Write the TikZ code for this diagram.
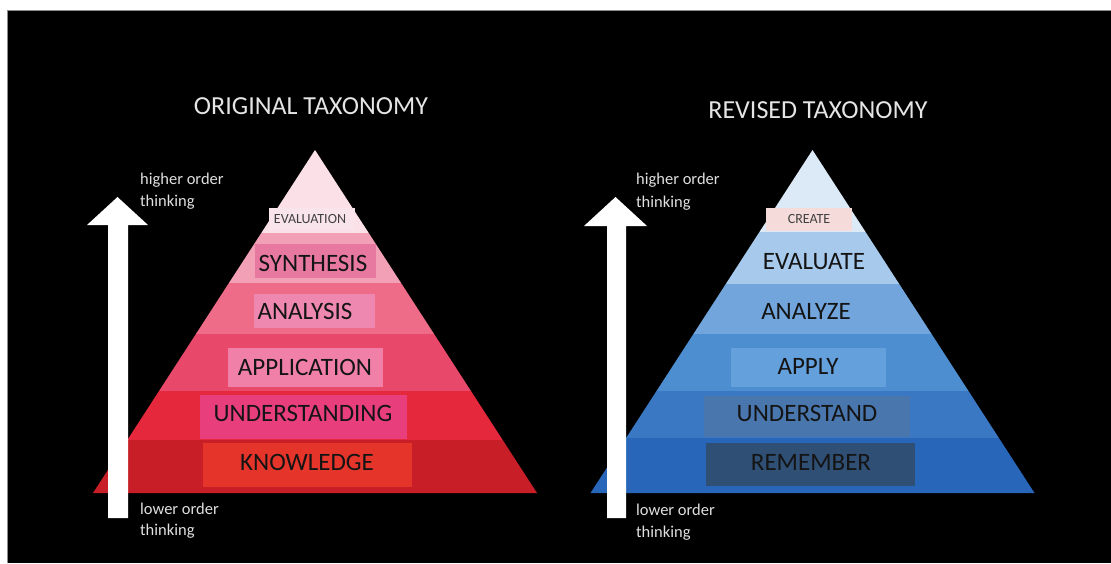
\documentclass[tikz,border=0pt]{standalone}
\usepackage{fontspec}
\setmainfont{Carlito}
\begin{document}
\begin{tikzpicture}[x=1pt,y=-1pt,
  title/.style={text=white!90!black,font=\fontsize{26}{30}\selectfont,inner sep=0pt},
  side/.style={text=white!88!black,font=\fontsize{16.5}{19}\selectfont,inner sep=0pt,anchor=west},
  level/.style={text=black!92,font=\fontsize{25}{29}\selectfont,inner sep=0pt},
  small/.style={text=black!75,font=\fontsize{14}{16}\selectfont,inner sep=0pt}]
% frame
\useasboundingbox (0,0) rectangle (1111,563);
\fill[white] (0,0) rectangle (1111,563);
\fill[black] (7,10) rectangle (1111,563);
\draw[black!45,line width=0.8pt] (7,563) -- (7,10) -- (1111,10);

% one band of a pyramid: apex at (#1,150), half base 222 at y=493
\newcommand{\band}[4]{%
  \fill[#4] ({#1-0.64723*(#2-150)},#2) -- ({#1+0.64723*(#2-150)},#2)
    -- ({#1+0.64723*(#3-150)},#3) -- ({#1-0.64723*(#3-150)},#3) -- cycle;}

% ---------- original taxonomy ----------
\definecolor{o1}{HTML}{FBE0E7}
\definecolor{o2}{HTML}{F2A0B6}
\definecolor{o3}{HTML}{EE6C88}
\definecolor{o4}{HTML}{E8486A}
\definecolor{o5}{HTML}{E5283C}
\definecolor{o6}{HTML}{C81E27}
\band{315}{150}{233}{o1}
\band{315}{233}{283}{o2}
\band{315}{283}{334}{o3}
\band{315}{334}{391}{o4}
\band{315}{391}{440}{o5}
\band{315}{440}{493}{o6}

\fill[fill={rgb,255:red,249;green,228;blue,235}] (269,208) rectangle (355,231);
\fill[fill={rgb,255:red,231;green,121;blue,160}] (255,244) rectangle (376,278);
\fill[fill={rgb,255:red,238;green,136;blue,176}] (254,294) rectangle (375,328);
\fill[fill={rgb,255:red,240;green,128;blue,168}] (228,348) rectangle (383,387);
\fill[fill={rgb,255:red,232;green,62;blue,124}] (200,395) rectangle (407,439);
\fill[fill={rgb,255:red,229;green,53;blue,42}] (203,443) rectangle (412,487);

\node[small] (oeval) at (310,219) {EVALUATION};
\node[level] (osyn) at (313,263) {SYNTHESIS};
\node[level] (oana) at (305,311) {ANALYSIS};
\node[level] (oapp) at (305,367) {APPLICATION};
\node[level] (ound) at (303,413) {UNDERSTANDING};
\node[level] (oknow) at (307,462) {KNOWLEDGE};

\node[title] (otitle) at (311,106) {ORIGINAL TAXONOMY};

\fill[white] (108,518) -- (108,225) -- (87,225) -- (117.5,197) -- (148,225)
  -- (128,225) -- (128,518) -- cycle;
\node[side] (ohigh) at (140,180) {higher order};
\node[side] (ohigh2) at (140,202) {thinking};
\node[side] (olow) at (140,509) {lower order};
\node[side] (olow2) at (140,531) {thinking};

% ---------- revised taxonomy ----------
\definecolor{r1}{HTML}{DCEAF8}
\definecolor{r2}{HTML}{A7C9EC}
\definecolor{r3}{HTML}{71A5DB}
\definecolor{r4}{HTML}{4D8ED1}
\definecolor{r5}{HTML}{3A78C4}
\definecolor{r6}{HTML}{2866B9}
\band{812.5}{150}{232}{r1}
\band{812.5}{232}{284}{r2}
\band{812.5}{284}{334}{r3}
\band{812.5}{334}{391}{r4}
\band{812.5}{391}{438}{r5}
\band{812.5}{438}{493}{r6}

\fill[fill={rgb,255:red,245;green,220;blue,218}] (766,208) rectangle (852,231);
\fill[fill={rgb,255:red,100;green,160;blue,220}] (731,348) rectangle (886,387);
\fill[fill={rgb,255:red,72;green,118;blue,173}] (704,396) rectangle (910,437);
\fill[fill={rgb,255:red,47;green,79;blue,117}] (706,443) rectangle (915,486);

\node[small] (rcreate) at (809,219) {CREATE};
\node[level] (reval) at (814,262) {EVALUATE};
\node[level] (rana) at (806,311) {ANALYZE};
\node[level] (rapp) at (808,366) {APPLY};
\node[level] (rund) at (807,413) {UNDERSTAND};
\node[level] (rrem) at (811,462) {REMEMBER};

\node[title] (rtitle) at (818,110) {REVISED TAXONOMY};

\fill[white] (607,518) -- (607,226) -- (584,226) -- (615.5,197) -- (647,226)
  -- (626,226) -- (626,518) -- cycle;
\node[side] (rhigh) at (636,180) {higher order};
\node[side] (rhigh2) at (636,203) {thinking};
\node[side] (rlow) at (636,510) {lower order};
\node[side] (rlow2) at (636,533) {thinking};
\end{tikzpicture}
\end{document}
